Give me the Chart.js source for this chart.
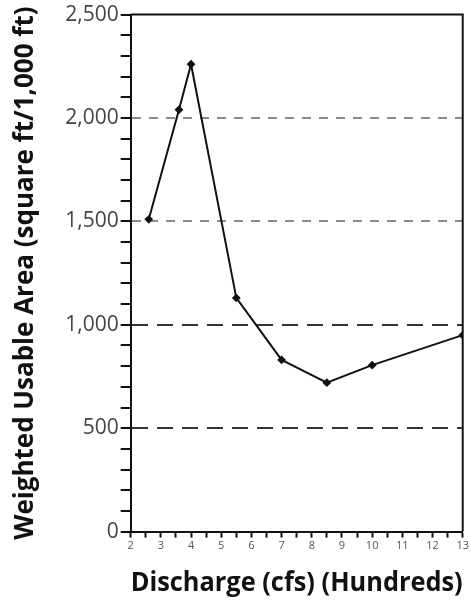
<!DOCTYPE html>
<html>
<head>
<meta charset="utf-8">
<script src="https://cdn.jsdelivr.net/npm/chart.js@4"></script>
<style>
  html,body{margin:0;padding:0;background:#fff;}
  #wrap{width:471px;height:607px;}
</style>
</head>
<body>
<div id="wrap"><canvas id="wuaChart" width="471" height="607"></canvas></div>
<script>
// ----- Datos -----
const discharge = [2.6, 3.6, 4.0, 5.5, 7.0, 8.5, 10.0, 13.0];   // cientos de cfs
const wua = [1510, 2040, 2260, 1130, 830, 720, 805, 950];
const xTicks = [2, 3, 4, 5, 6, 7, 8, 9, 10, 11, 12, 13];
const yLabels = [0, 500, 1000, 1500, 2000, 2500];

const ink = '#111';
const font = 'Open Sans';

// marco superior / derecho
const frame = {
  id: 'frame',
  afterDraw(chart){
    const {ctx, chartArea:a} = chart;
    ctx.save();
    ctx.strokeStyle = ink;
    ctx.lineWidth = 2;
    ctx.beginPath();
    ctx.moveTo(a.left, a.top); ctx.lineTo(a.right, a.top); ctx.lineTo(a.right, a.bottom);
    ctx.stroke();
    ctx.restore();
  }
};

new Chart(document.getElementById('wuaChart'), {
  type: 'line',
  data: {
    datasets: [{
      data: discharge.map((x, i) => ({x, y: wua[i]})),
      borderColor: ink, borderWidth: 2, tension: 0,
      pointStyle: 'rectRot', pointRadius: 3,
      pointBackgroundColor: ink, pointBorderColor: ink
    }]
  },
  options: {
    responsive: false, animation: false,
    layout: { padding: { top: 0, right: 8, left: 10, bottom: 6 } },
    plugins: { legend: { display: false }, tooltip: { enabled: false } },
    scales: {
      x: {
        type: 'linear', min: xTicks[0], max: xTicks[xTicks.length-1],
        ticks: {
          stepSize: 0.5, autoSkip: false, maxRotation: 0, color: '#555',
          font: { family: font, size: 11 }, padding: 2,
          callback: v => xTicks.includes(v) ? String(v) : ''
        },
        grid: { drawOnChartArea: false, drawTicks: true, tickLength: 6, tickColor: ink, tickWidth: 2 },
        border: { color: ink, width: 2 },
        title: { display: true, text: 'Discharge (cfs) (Hundreds)', color: ink,
          font: { family: font, size: 26, weight: 'bold' }, padding: { top: 13, bottom: 2 } }
      },
      y: {
        min: 0, max: 2500,
        ticks: {
          stepSize: 100, autoSkip: false, color: '#444', padding: 2,
          font: { family: font, size: 21 },
          callback: v => yLabels.includes(v) ? v.toLocaleString('en-US') : ''
        },
        grid: {
          drawOnChartArea: true, tickLength: 10, tickColor: ink, tickWidth: 2,
          color: c => {
            const v = c.tick ? c.tick.value : 0;
            if (v === 0 || v === 2500 || v % 500 !== 0) return 'rgba(0,0,0,0)';
            return v >= 1500 ? '#8a8a8a' : '#333';
          },
          lineWidth: 2
        },
        border: {
          color: ink, width: 2,
          dash: c => (c.tick && c.tick.value >= 1500) ? [9, 8] : [16, 9]
        },
        title: { display: true, text: 'Weighted Usable Area (square ft/1,000 ft)', color: ink,
          font: { family: font, size: 26, weight: 'bold' }, padding: { top: 0, bottom: 22 } }
      }
    }
  },
  plugins: [frame]
});
</script>
</body>
</html>
